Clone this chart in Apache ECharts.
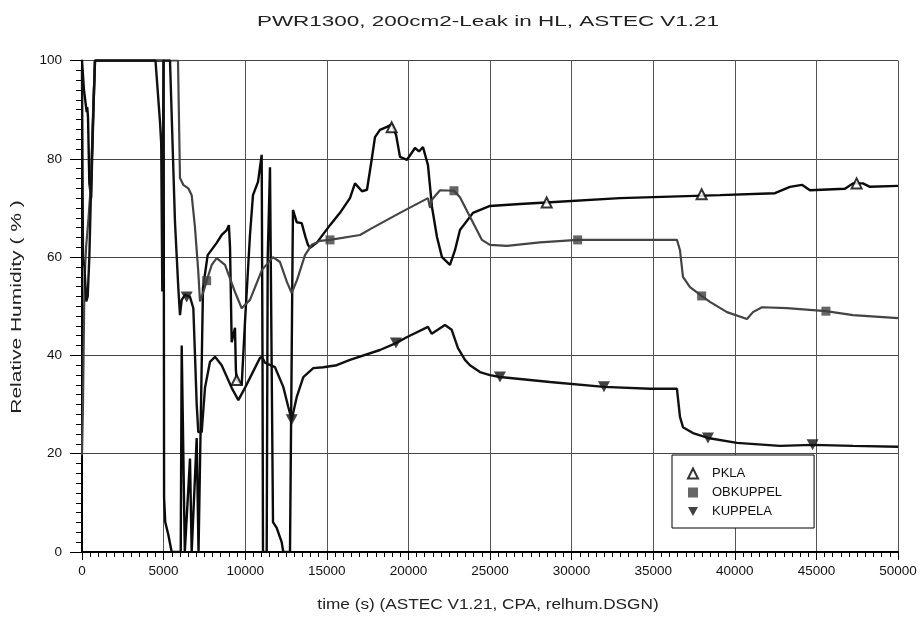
<!DOCTYPE html>
<html>
<head>
<meta charset="utf-8">
<title>PWR1300 relhum</title>
<script src="https://cdn.jsdelivr.net/npm/echarts@6/dist/echarts.min.js"></script>
<style>
  html, body { margin: 0; padding: 0; background: #fff; }
  #chart { width: 923px; height: 617px; }
</style>
</head>
<body>
<div id="chart"></div>
<script>
// time (s) / relative humidity (%)
const pkla = [
  [0, 100], [120, 94], [288, 89.5], [320, 90.5], [368, 88.5], [450, 75], [560, 72], [700, 90], [797, 100],
  [5000, 100], [5030, 11], [5100, 6.1], [5290, 3.5], [5495, 0], [6050, 0], [6109, 42], [6300, 0],
  [6617, 19], [6721, 0], [7028, 23.2], [7140, 0], [7260, 0], [7414, 53.7], [7700, 60.4], [8253, 62.9],
  [8559, 64.5], [8870, 65.5], [9000, 66.5], [9070, 62], [9172, 42.7], [9374, 45.6], [9430, 37],
  [9478, 35], [9785, 34], [9987, 46.8], [10293, 64.5], [10477, 72.6], [10784, 75.3], [11010, 80.8],
  [11060, 40], [11090, 0], [11317, 0], [11380, 60], [11519, 78.3], [11623, 78.7], [11703, 6.1],
  [11930, 4.9], [12236, 2], [12333, 0], [12744, 0], [12900, 60], [12928, 69.6], [13155, 67.1],
  [13461, 66.9], [13700, 64], [13847, 62.5], [13970, 61.9], [14380, 62.9], [15195, 66.5],
  [15808, 69], [16420, 72], [16727, 75], [17156, 73.4], [17462, 73.7], [17749, 79.8], [17952, 84.4],
  [18258, 85.9], [18687, 86.5], [18994, 87], [19250, 84.8], [19484, 80.4], [19913, 79.8],
  [20403, 82.2], [20650, 81.5], [20893, 82.4], [21199, 78.7], [21445, 70.2], [21751, 64.1],
  [22057, 60], [22548, 58.4], [22854, 61.4], [23160, 65.5], [23957, 69], [24998, 70.4],
  [26836, 70.8], [28430, 71.1], [32963, 72], [39090, 72.6], [42460, 73], [43379, 74.3],
  [44114, 74.7], [44605, 73.6], [46749, 73.9], [47239, 75], [47852, 75], [48281, 74.3], [50000, 74.5]
];
const obkuppel = [
  [0, 19.7], [60, 30], [150, 55], [250, 62], [400, 68], [550, 75], [700, 92], [797, 100],
  [5882, 100], [6004, 76.1], [6207, 74.7], [6513, 74], [6721, 72.6], [6924, 66], [7126, 57],
  [7230, 51], [7350, 50.7], [7475, 53.3], [7640, 55.2], [7947, 58.4], [8253, 59.8], [8762, 58.4],
  [9374, 52.9], [9785, 49.6], [10293, 51.3], [11029, 57.4], [11703, 60], [12132, 59], [12560, 54.9],
  [12848, 52.7], [13173, 55.3], [13663, 60.4], [14074, 62.5], [14582, 63.3], [15195, 63.5],
  [17033, 64.5], [17768, 65.9], [19484, 69], [21199, 72], [21300, 72.3], [21330, 70], [21400, 71.5],
  [21935, 73.6], [22792, 73.5], [23160, 72.2], [23773, 68.2], [24508, 63.5], [24998, 62.5],
  [26040, 62.3], [28062, 63], [30371, 63.5], [34189, 63.5], [36455, 63.5], [36641, 61.4],
  [36824, 56], [37253, 53.9], [37969, 52.1], [38478, 50.9], [39519, 48.8], [40745, 47.4],
  [41112, 48.8], [41664, 49.8], [43195, 49.6], [45585, 49], [47239, 48.2], [50000, 47.6]
];
const kuppela = [
  [0, 98], [60, 60], [150, 58], [260, 51], [350, 52], [450, 60], [600, 80], [797, 100],
  [4503, 100], [4779, 87.5], [4853, 83.2], [4920, 53], [4994, 100], [5392, 100], [5698, 67.1],
  [5800, 60.4], [5902, 53.7], [6004, 48.2], [6109, 51.3], [6311, 52.3], [6617, 51.9], [6822, 49.6],
  [6924, 40], [7028, 30], [7126, 24.4], [7334, 24.4], [7536, 33.4], [7843, 38.7], [8149, 39.7],
  [8559, 38], [9172, 33.4], [9580, 30.9], [10000, 33.5], [10906, 39.5], [11029, 39.7], [11212, 38.5],
  [11825, 37.6], [12333, 33.6], [12640, 29.5], [12848, 26.9], [13155, 31.5], [13560, 35.6],
  [14172, 37.4], [14785, 37.6], [15605, 38], [16420, 39.1], [18258, 41.1], [19238, 42.5],
  [19895, 43.7], [21199, 45.8], [21426, 44.4], [22241, 46.2], [22652, 45.2], [23038, 41.5],
  [23467, 39.1], [23773, 38], [24385, 36.6], [24998, 36], [25611, 35.6], [28674, 34.6],
  [31983, 33.6], [34801, 33.2], [36455, 33.2], [36641, 27.5], [36824, 25.4], [37437, 24.2],
  [38355, 23.2], [40132, 22.2], [42766, 21.6], [44770, 21.8], [47239, 21.6], [50000, 21.4]
];
// marker positions
const pklaMarks = [[9478, 35], [18975, 86.4], [28472, 71.1], [37968, 72.8], [47464, 75.0]];
const obkuppelMarks = [[7638, 55.2], [15195, 63.5], [22792, 73.5], [30371, 63.5], [37968, 52.1], [45585, 49.0]];
const kuppelaMarks = [[6414, 51.9], [12848, 26.9], [19238, 42.5], [25610, 35.6], [31983, 33.6], [38355, 23.2], [44768, 21.8]];

const titleText = "PWR1300, 200cm2-Leak in HL, ASTEC V1.21";
const xName = "time (s) (ASTEC V1.21, CPA, relhum.DSGN)";
const yName = "Relative Humidity ( % )";

const font = "'Liberation Sans', Arial, sans-serif";
const downTri = "path://M0,0 L10,0 L5,9 Z";

const chart = echarts.init(document.getElementById("chart"));

const lineSeries = (name, data, color, width) => ({
  name: name,
  type: "line",
  data: data,
  symbol: "none",
  lineStyle: { color: color, width: width },
  z: 3
});

// the original plot uses widely spaced lettering, so the labels are stretched
const wideText = (text, x, y, size, sx, rot) => ({
  type: "text",
  x: x,
  y: y,
  rotation: rot || 0,
  scaleX: sx,
  style: {
    text: text,
    fill: "#222",
    font: size + "px " + font,
    textAlign: "center",
    textVerticalAlign: "middle"
  }
});

chart.setOption({
  animation: false,
  backgroundColor: "#fff",
  graphic: [
    wideText(titleText, 488, 22, 15.5, 1.45),
    wideText(xName, 488, 605, 14, 1.23),
    wideText(yName, 17, 307, 14, 1.5, Math.PI / 2)
  ],
  legend: {
    orient: "vertical",
    left: 672,
    top: 455,
    padding: [12, 32, 10, 15],
    itemWidth: 10,
    itemHeight: 10,
    itemGap: 6,
    borderColor: "#000",
    borderWidth: 1,
    backgroundColor: "#fff",
    textStyle: { fontFamily: font, fontSize: 13, color: "#111", padding: [0, 0, 0, 9] },
    data: ["PKLA", "OBKUPPEL", "KUPPELA"]
  },
  grid: { left: 82, right: 25, top: 60.5, bottom: 65, outerBoundsMode: "none" },
  xAxis: {
    type: "value",
    min: 0,
    max: 50000,
    interval: 5000,
    axisLine: { lineStyle: { color: "#000", width: 2 } },
    axisTick: { length: 8, lineStyle: { color: "#000" } },
    minorTick: { show: true, splitNumber: 10, length: 5, lineStyle: { color: "#000" } },
    splitLine: { show: true, lineStyle: { color: "#555", width: 1 } },
    axisLabel: { fontFamily: font, fontSize: 13.5, color: "#111", margin: 12, formatter: (v) => String(v) }
  },
  yAxis: {
    type: "value",
    min: 0,
    max: 100,
    interval: 20,
    axisLine: { show: true, lineStyle: { color: "#000", width: 2 } },
    axisTick: { show: true, length: 12, lineStyle: { color: "#000" } },
    minorTick: { show: true, splitNumber: 10, length: 6, lineStyle: { color: "#000" } },
    splitLine: { show: true, lineStyle: { color: "#444", width: 1 } },
    axisLabel: { fontFamily: font, fontSize: 13.5, color: "#111", margin: 20, formatter: (v) => String(v) }
  },
  series: [
    lineSeries("PKLA line", pkla, "#0a0a0a", 2.4),
    lineSeries("OBKUPPEL line", obkuppel, "#444", 2.2),
    lineSeries("KUPPELA line", kuppela, "#111", 2.4),
    {
      name: "PKLA",
      type: "scatter",
      data: pklaMarks,
      symbol: "triangle",
      symbolSize: 10,
      itemStyle: { color: "#fff", borderColor: "#000", borderWidth: 2 },
      z: 5
    },
    {
      name: "OBKUPPEL",
      type: "scatter",
      data: obkuppelMarks,
      symbol: "rect",
      symbolSize: 9,
      itemStyle: { color: "#404040" },
      z: 5
    },
    {
      name: "KUPPELA",
      type: "scatter",
      data: kuppelaMarks,
      symbol: downTri,
      symbolSize: [12, 11],
      itemStyle: { color: "#111" },
      z: 5
    }
  ]
});
</script>
</body>
</html>
